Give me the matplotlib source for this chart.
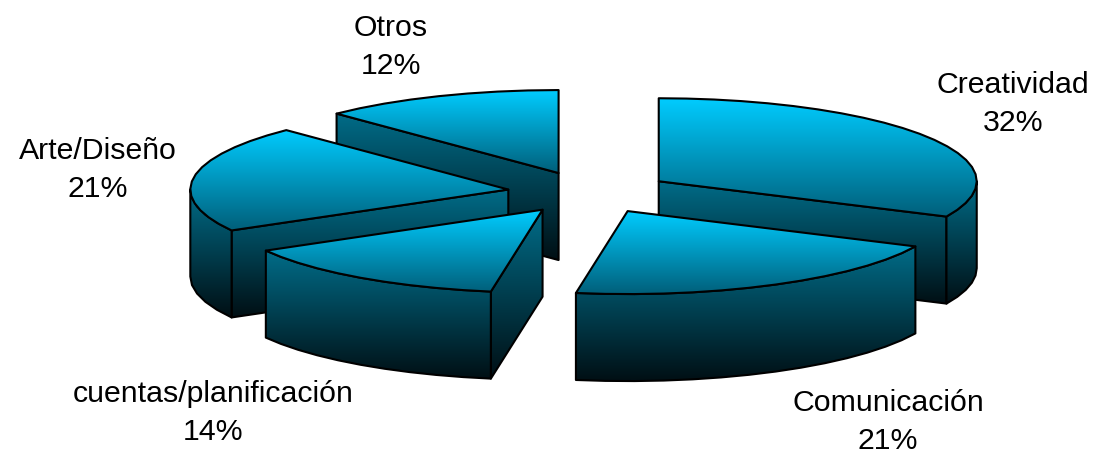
import numpy as np
import matplotlib
matplotlib.use("Agg")
import matplotlib.pyplot as plt
from matplotlib.patches import Polygon
from matplotlib.colors import LinearSegmentedColormap

labels = ["Creatividad", "Comunicación", "cuentas/planificación", "Arte/Diseño", "Otros"]
values = [32.0, 20.6, 14.2, 20.9, 12.3]

W, H = 1093, 457
CX, CY = 589.5, 192.5
RX, RY = 318.0, 83.0
DEPTH = 87.0
EX, EY = 82.0, 21.0
LABEL_POS = [(1013, 104), (888, 422), (213, 413), (98, 170), (391, 47)]
DRAW_ORDER = [4, 0, 3, 2, 1]

top_cmap = LinearSegmentedColormap.from_list("top", ["#00CCFF", "#005F7A"])
side_cmap = LinearSegmentedColormap.from_list("side", ["#006C88", "#000F14"])

plt.rcParams["font.family"] = ["Liberation Sans", "DejaVu Sans"]
fig = plt.figure(figsize=(W / 100, H / 100), dpi=100)
ax = fig.add_axes([0, 0, 1, 1])
ax.set_xlim(0, W)
ax.set_ylim(H, 0)
ax.axis("off")

def rim(cx, cy, a, b, n=None):
    n = n or max(2, int(abs(b - a) / 5) + 1)
    t = np.radians(np.linspace(a, b, n))
    return np.column_stack([cx + RX * np.sin(t), cy - RY * np.cos(t)])

def shade(points, cmap, z):
    poly = Polygon(points, closed=True, fc="none", ec="black", lw=1.5, zorder=z + 0.1, joinstyle="round")
    ax.add_patch(poly)
    x0, y0 = points.min(axis=0)
    x1, y1 = points.max(axis=0)
    clip = Polygon(points, closed=True, transform=ax.transData)
    im = ax.imshow(np.linspace(0, 1, 256)[:, None], cmap=cmap, aspect="auto",
                   extent=(x0, x1, y1, y0), zorder=z, vmin=0, vmax=1)
    im.set_clip_path(clip)

edges = 360 * np.cumsum([0] + values) / sum(values)
z = 1
for i in DRAW_ORDER:
    a, b = edges[i], edges[i + 1]
    mid = np.radians((a + b) / 2)
    cx = CX + EX * np.sin(mid)
    cy = CY - EY * np.cos(mid)
    down = np.array([0, DEPTH])
    apex = np.array([[cx, cy]])
    for ang, visible in ((a, np.sin(np.radians(a)) < -1e-9), (b, np.sin(np.radians(b)) > 1e-9)):
        if visible:
            p = rim(cx, cy, ang, ang, 2)[:1]
            shade(np.vstack([apex, p, p + down, apex + down]), side_cmap, z)
            z += 1
    lo, hi = max(a, 90), min(b, 270)
    if lo < hi:
        arc = rim(cx, cy, lo, hi)
        shade(np.vstack([arc, arc[::-1] + down]), side_cmap, z)
        z += 1
    shade(np.vstack([apex, rim(cx, cy, a, b)]), top_cmap, z)
    z += 1

for lab, v, (x, y) in zip(labels, values, LABEL_POS):
    ax.text(x, y, f"{lab}\n{round(v)}%", ha="center", va="center", fontsize=21.8,
            color="black", linespacing=1.44, zorder=100)

ax.set_xlim(0, W)
ax.set_ylim(H, 0)
fig.savefig("out.png", dpi=100)
